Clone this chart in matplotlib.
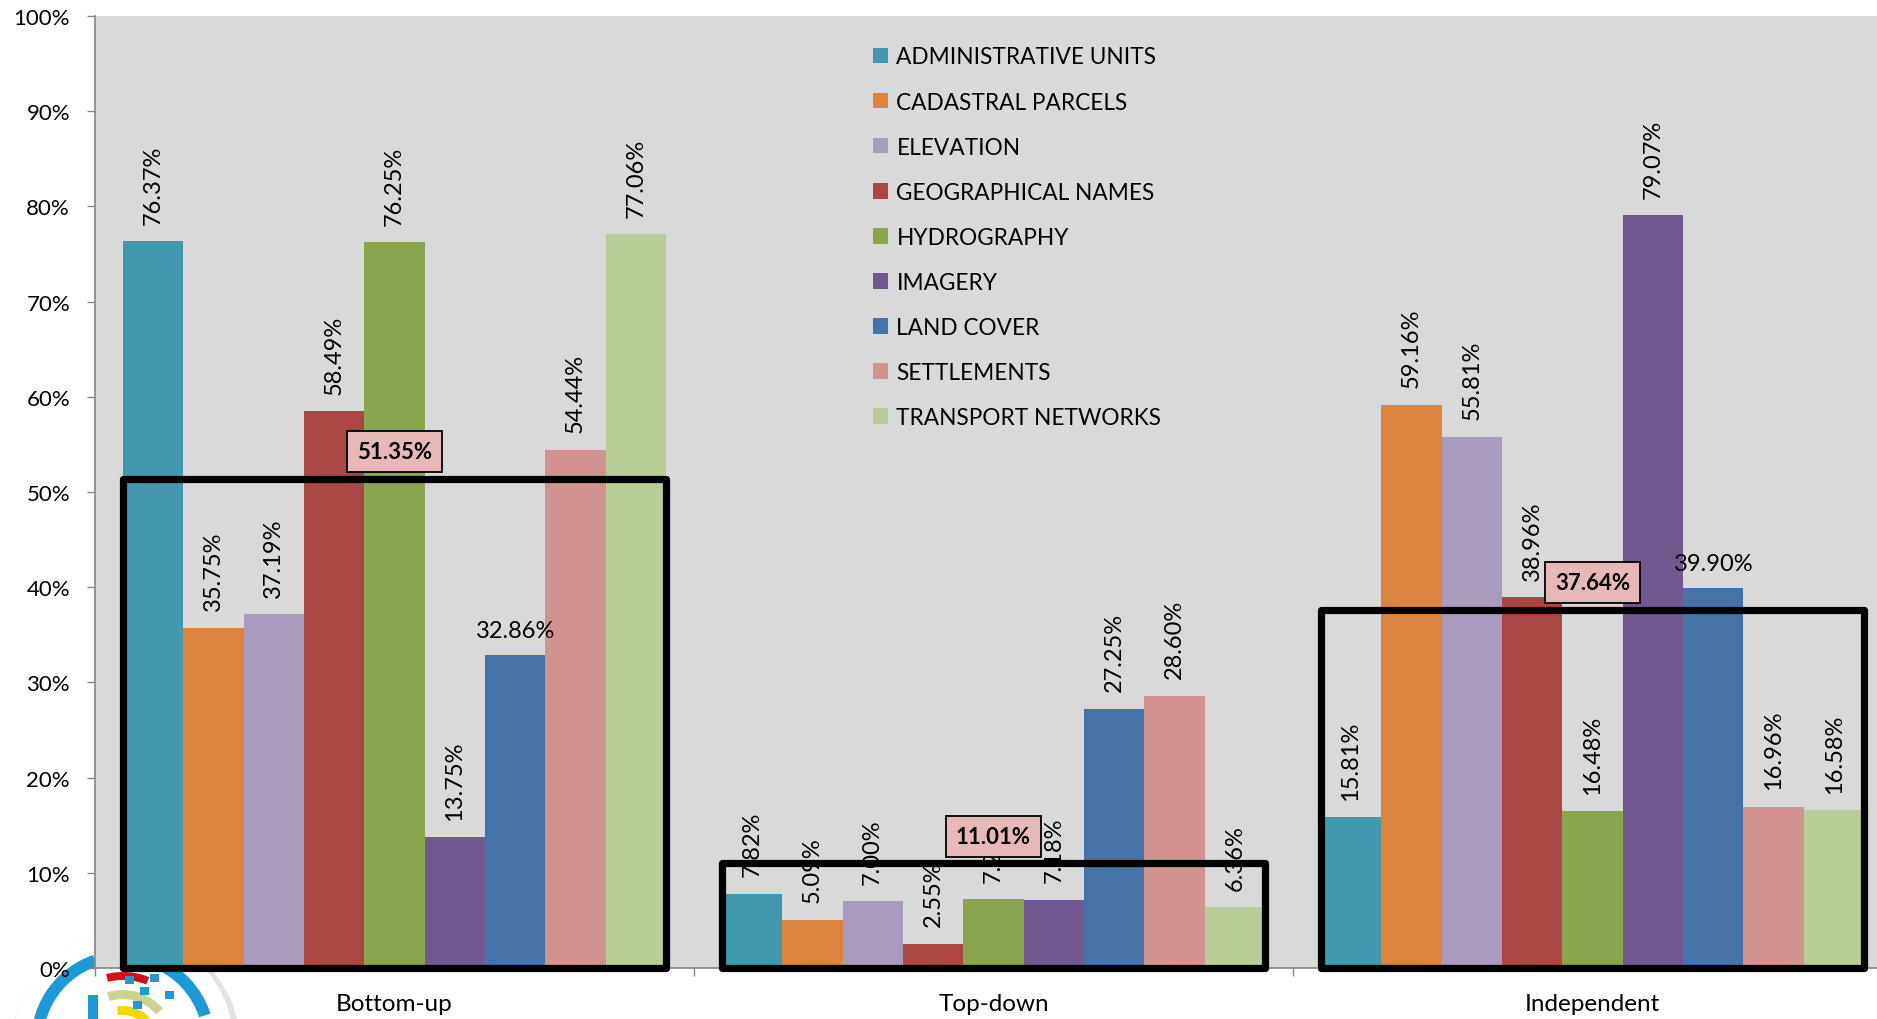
import matplotlib
matplotlib.use('Agg')
import matplotlib.pyplot as plt
from matplotlib.patches import Rectangle, Circle, Wedge
from matplotlib.ticker import PercentFormatter
import numpy as np

groups = ['Bottom-up', 'Top-down', 'Independent']
themes = ['ADMINISTRATIVE UNITS', 'CADASTRAL PARCELS', 'ELEVATION',
          'GEOGRAPHICAL NAMES', 'HYDROGRAPHY', 'IMAGERY', 'LAND COVER',
          'SETTLEMENTS', 'TRANSPORT NETWORKS']
bottom_up = [76.37, 35.75, 37.19, 58.49, 76.25, 13.75, 32.86, 54.44, 77.06]
top_down = [7.82, 5.09, 7.00, 2.55, 7.24, 7.18, 27.25, 28.60, 6.36]
independent = [15.81, 59.16, 55.81, 38.96, 16.48, 79.07, 39.90, 16.96, 16.58]
series = [bottom_up, top_down, independent]

colors = ['#4198AF', '#DB843D', '#A99BBD', '#AA4643', '#89A54E',
          '#71588F', '#4572A7', '#D19392', '#B9CD96']
# (group, theme) labels that are written flat instead of rotated
flat_labels = [(0, 6), (2, 6)]

plt.rcParams['font.family'] = ['Lato', 'DejaVu Sans']
fs = 16

fig = plt.figure(figsize=(18.77, 10.20), dpi=100)

# rough logo in the bottom-left corner, under the plot area
lax = fig.add_axes([0, 0, 300/1877, 120/1020], zorder=0)
lax.set_xlim(0, 300)
lax.set_ylim(0, 120)
lax.axis('off')
cx, cy = 123, -23
lax.add_patch(Circle((cx + 3, cy - 3), 114, fc='#d8d8d8', ec='none', alpha=0.7))
lax.add_patch(Circle((cx, cy), 110, fc='white', ec='none'))
blue = '#1C9AD6'
lax.add_patch(Wedge((cx, cy), 92, 109, 178, width=12, fc=blue, ec='none'))
lax.add_patch(Wedge((cx, cy), 92, 18, 69, width=12, fc=blue, ec='none'))
lax.add_patch(Wedge((cx, cy), 70, 68, 104, width=8, fc='#D0101B', ec='none'))
lax.add_patch(Wedge((cx, cy), 52, 40, 108, width=9, fc='#C9D48E', ec='none'))
lax.add_patch(Wedge((cx, cy), 36, 10, 100, width=9, fc='#F5D800', ec='none'))
for sx, sy in [(125, 35), (150, 37), (140, 24), (165, 20), (133, 10)]:
    lax.add_patch(Rectangle((sx, sy), 9, 8, fc=blue, ec='none'))
lax.add_patch(Rectangle((88, 0), 10, 24, fc=blue, ec='none'))

ax = fig.add_axes([95/1877, 51/1020, 1797/1877, 952/1020], zorder=1)
ax.set_facecolor('#D9D9D9')

bw = 0.1008
x = np.arange(len(groups))
for i, theme in enumerate(themes):
    vals = [s[i] for s in series]
    xs = x + (i - 4) * bw
    ax.bar(xs, vals, bw, color=colors[i], label=theme, zorder=2)
    for g, (xx, v) in enumerate(zip(xs, vals)):
        flat = (g, i) in flat_labels
        ax.annotate(f'{v:.2f}%', (xx, v), xytext=(0, 10 if flat else 12.5),
                    textcoords='offset points', ha='center', va='bottom',
                    rotation=0 if flat else 90, fontsize=17, zorder=3)

for g, vals in enumerate(series):
    avg = np.mean(vals)
    left = g - 4.5 * bw
    ax.add_patch(Rectangle((left, 0), 9 * bw, avg, fill=False, lw=5.2, ec='black',
                           joinstyle='round', zorder=4, clip_on=False))
    ax.annotate(f'{avg:.2f}%', (g, avg), xytext=(0, 12), textcoords='offset points',
                ha='center', va='bottom', fontsize=fs, fontweight='bold', zorder=5,
                bbox=dict(boxstyle='square,pad=0.45', fc='#E6B9B8', ec='black', lw=1.3))

ax.set_xlim(-0.5, 2.5)
ax.set_ylim(0, 100)
ax.set_yticks(range(0, 101, 10))
ax.yaxis.set_major_formatter(PercentFormatter(decimals=0))
ax.tick_params(axis='y', length=6, color='#868686', width=1, pad=12, labelsize=fs)

ax.set_xticks([-0.5, 0.5, 1.5, 2.5])
ax.set_xticklabels([])
ax.set_xticks(x, minor=True)
ax.set_xticklabels(groups, minor=True)
ax.tick_params(axis='x', which='major', length=6, color='#868686', width=1)
ax.tick_params(axis='x', which='minor', length=0, pad=17.7, labelsize=17.5)

for side in ['top', 'right']:
    ax.spines[side].set_visible(False)
for side in ['left', 'bottom']:
    ax.spines[side].set_color('#868686')
    ax.spines[side].set_linewidth(1.2)

ax.legend(loc='upper left', bbox_to_anchor=(0.433, 0.968), frameon=False,
          fontsize=16.3, handlelength=0.68, handleheight=0.68, handletextpad=0.35,
          labelspacing=1.064, borderpad=0, borderaxespad=0)

fig.savefig('out.png', dpi=100)
